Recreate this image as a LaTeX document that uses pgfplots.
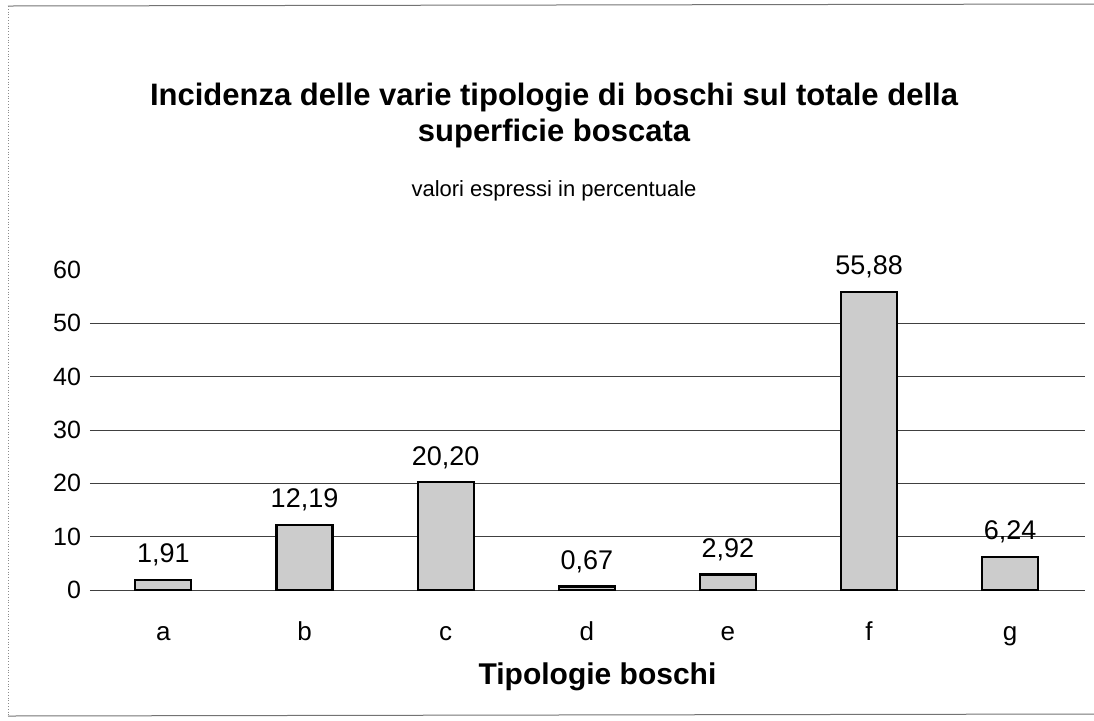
\documentclass[border=0pt]{standalone}
\usepackage{pgfplots}
\pgfplotsset{compat=1.18}
\usepackage{fontspec}
\setmainfont{Liberation Sans}
\begin{document}
\begin{tikzpicture}
\path[use as bounding box] (0,0) rectangle (547pt,-360pt);
\draw[black!55, line width=0.5pt] (4pt,-3pt) -- (547pt,-2pt);
\draw[black!45, line width=0.4pt, densely dotted] (4pt,-3pt) -- (4pt,-358pt);
\draw[black!55, line width=0.5pt] (4pt,-358pt) -- (547pt,-357pt);
\node[font=\bfseries\fontsize{15.5}{18}\selectfont, align=center] at (277pt,-57.5pt)
  {Incidenza delle varie tipologie di boschi sul totale della\\superficie boscata};
\node[font=\fontsize{11}{13}\selectfont] at (277pt,-95.5pt) {valori espressi in percentuale};
\begin{axis}[
  at={(45pt,-295pt)}, anchor=south west,
  scale only axis, width=497.5pt, height=160pt,
  xmin=-0.52, xmax=6.53, ymin=0, ymax=60,
  ytick={0,10,...,50}, extra y ticks={60}, extra y tick style={grid=none},
  ymajorgrids, grid style={black!75, line width=0.5pt},
  axis line style={draw=none}, tick style={draw=none},
  xtick={0,...,6}, xticklabels={a,b,c,d,e,f,g},
  xticklabel style={anchor=base, yshift=-21pt, font=\fontsize{13}{15}\selectfont},
  yticklabel style={font=\fontsize{12.5}{15}\selectfont, xshift=-1pt},
  /pgf/number format/assume math mode=true,
  xlabel={Tipologie boschi},
  xlabel style={at={(axis description cs:0.51,0)}, anchor=base, yshift=-47pt, font=\bfseries\fontsize{15}{18}\selectfont},
  ybar, bar width=28pt,
  nodes near coords,
  nodes near coords style={font=\fontsize{13.5}{15}\selectfont, yshift=3pt,
    /pgf/number format/.cd, fixed, fixed zerofill, precision=2, use comma, assume math mode=true},
  clip=false,
]
\addplot[draw=black, line width=1.1pt, fill=black!20] coordinates {
  (0,1.91) (1,12.19) (2,20.20) (3,0.67) (4,2.92) (5,55.88) (6,6.24)};
\end{axis}
\end{tikzpicture}
\end{document}
